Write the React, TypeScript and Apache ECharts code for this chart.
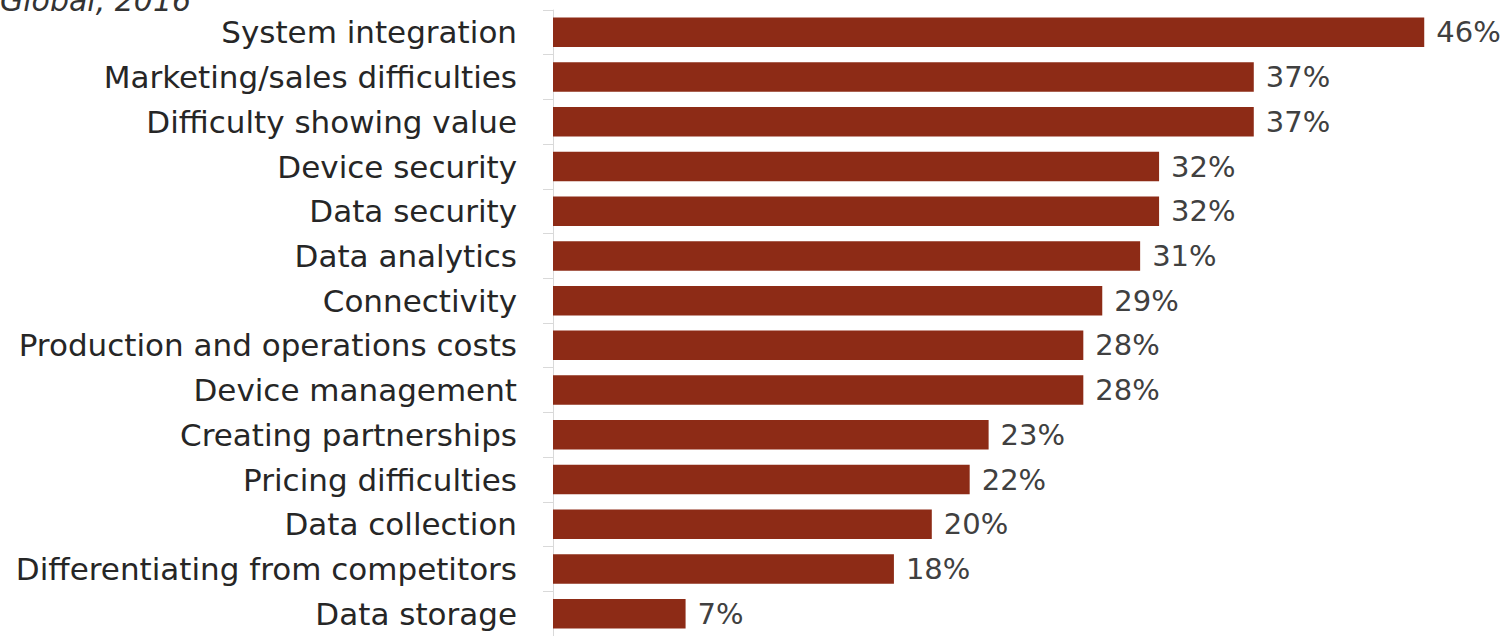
import React, { useEffect, useRef } from "react";
import * as echarts from "echarts";

const categories = [
  "System integration",
  "Marketing/sales difficulties",
  "Difficulty showing value",
  "Device security",
  "Data security",
  "Data analytics",
  "Connectivity",
  "Production and operations costs",
  "Device management",
  "Creating partnerships",
  "Pricing difficulties",
  "Data collection",
  "Differentiating from competitors",
  "Data storage",
];
const values = [46, 37, 37, 32, 32, 31, 29, 28, 28, 23, 22, 20, 18, 7];
const subtitle = "Global, 2016";

const FONT = "DejaVu Sans";

export default function App() {
  const ref = useRef<HTMLDivElement>(null);
  useEffect(() => {
    document.body.style.margin = "0";
    const chart = echarts.init(ref.current!, null, { renderer: "svg" });
    chart.setOption({
      animation: false,
      backgroundColor: "#ffffff",
      textStyle: { fontFamily: FONT },
      graphic: [
        {
          type: "text",
          left: 0,
          top: -15,
          style: {
            text: subtitle,
            fontFamily: FONT,
            fontStyle: "italic",
            fontSize: 30,
            fill: "#333333",
          },
        },
      ],
      grid: { left: 553, top: 10, height: 631, right: 1 },
      xAxis: {
        type: "value",
        min: 0,
        max: 50,
        show: false,
      },
      yAxis: {
        type: "category",
        inverse: true,
        data: categories,
        axisLine: { show: true, lineStyle: { color: "#d9d9d9", width: 1 } },
        axisTick: { show: true, length: 10, lineStyle: { color: "#d9d9d9" } },
        axisLabel: {
          margin: 36,
          fontSize: 31,
          color: "#262626",
          fontFamily: FONT,
          padding: [4, 0, 0, 0],
        },
      },
      series: [
        {
          type: "bar",
          data: values,
          barCategoryGap: "34%",
          itemStyle: { color: "#8d2b16" },
          label: {
            show: true,
            position: "right",
            distance: 12,
            formatter: "{c}%",
            fontSize: 29,
            color: "#404040",
            fontFamily: FONT,
            padding: [4, 0, 0, 0],
          },
        },
      ],
    });
    return () => chart.dispose();
  }, []);
  return <div ref={ref} style={{ width: 1501, height: 636 }} />;
}
